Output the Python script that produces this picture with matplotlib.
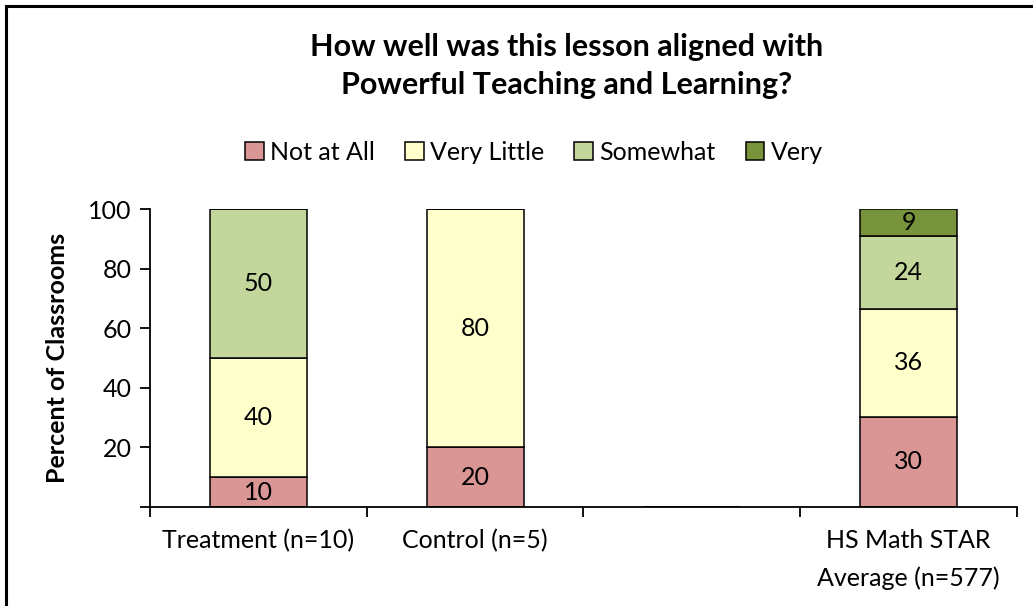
import matplotlib.pyplot as plt
from matplotlib.patches import Rectangle

# data
groups = ['Treatment (n=10)', 'Control (n=5)', '', 'HS Math STAR\nAverage (n=577)']
levels = ['Not at All', 'Very Little', 'Somewhat', 'Very']
not_at_all = [10, 20, 0, 30.3]
very_little = [40, 80, 0, 36.2]
somewhat = [50, 0, 0, 24.4]
very = [0, 0, 0, 9.1]
labels = [
    ['10', '20', '', '30'],
    ['40', '80', '', '36'],
    ['50', '', '', '24'],
    ['', '', '', '9'],
]
colors = ['#D99694', '#FFFFCC', '#C3D69B', '#77933C']

plt.rcParams['font.family'] = ['Lato', 'DejaVu Sans']

fig = plt.figure(figsize=(10.33, 6.06), dpi=100)
ax = fig.add_axes([0.1452, 0.1634, 0.8393, 0.4916])

x = [0.5, 1.5, 2.5, 3.5]
bottom = [0, 0, 0, 0]
series = [not_at_all, very_little, somewhat, very]
for vals, col, name, labs in zip(series, colors, levels, labels):
    bars = ax.bar(x, vals, width=0.447, bottom=bottom, color=col,
                  edgecolor='black', linewidth=1.1, label=name)
    for b, lab in zip(bars, labs):
        if lab:
            ax.text(b.get_x() + b.get_width() / 2, b.get_y() + b.get_height() / 2,
                    lab, ha='center', va='center', fontsize=18)
    bottom = [b0 + v for b0, v in zip(bottom, vals)]

ax.set_xlim(0, 4)
ax.set_ylim(0, 100)
ax.set_yticks([0, 20, 40, 60, 80, 100])
ax.set_yticklabels(['', '20', '40', '60', '80', '100'], fontsize=18)
ax.set_xticks(x)
ax.set_xticklabels(groups, fontsize=18, linespacing=1.75)
ax.set_xticks([0, 1, 2, 3, 4], minor=True)
ax.tick_params(axis='x', which='major', length=0, pad=16)
ax.tick_params(axis='x', which='minor', length=7, width=1.3, direction='out')
ax.tick_params(axis='y', length=7, width=1.3, direction='out', pad=6)
for s in ['top', 'right']:
    ax.spines[s].set_visible(False)
for s in ['left', 'bottom']:
    ax.spines[s].set_linewidth(1.3)

ax.set_ylabel('Percent of Classrooms', fontsize=18, fontweight='bold', labelpad=14)

fig.text(0.549, 0.945, 'How well was this lesson aligned with\nPowerful Teaching and Learning?',
         ha='center', va='top', fontsize=22, fontweight='bold', linespacing=1.4)

ax.legend(loc='center', bbox_to_anchor=(0.443, 1.19), ncol=4, frameon=False,
          fontsize=18, handlelength=0.75, handleheight=0.75, handletextpad=0.25,
          columnspacing=1.2)

fig.patches.append(Rectangle((6 / 1033, -0.1), 1.2, 1.1 - 6 / 606, transform=fig.transFigure,
                             fill=False, edgecolor='black', linewidth=2.2))

plt.savefig('out.png')
